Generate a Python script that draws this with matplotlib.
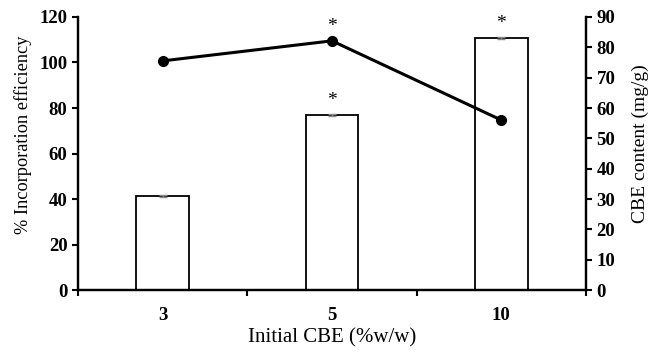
import matplotlib.pyplot as plt
import numpy as np

plt.rcParams['font.family'] = ['Liberation Serif', 'DejaVu Serif']

categories = ['3', '5', '10']
cbe_content = [31.0, 57.6, 83.1]        # mg/g, bars (right axis)
cbe_err = [0.4, 0.3, 0.4]
efficiency = [100.7, 109.5, 74.7]       # %, line (left axis)
eff_stars = [False, True, False]
bar_stars = [False, True, True]

x = np.arange(len(categories))

fig = plt.figure(figsize=(6.49, 3.53), dpi=100)
ax = fig.add_axes([0.120, 0.178, 0.783, 0.774])
ax2 = ax.twinx()

# bars on the right axis
ax2.bar(x, cbe_content, width=0.31, color='white', edgecolor='black', linewidth=1.3, zorder=2)
ax2.errorbar(x, cbe_content, yerr=cbe_err, fmt='none', ecolor='#888888', capsize=3, elinewidth=1, zorder=3)
for xi, v, s in zip(x, cbe_content, bar_stars):
    if s:
        ax2.text(xi, v + 2.0, '*', ha='center', va='bottom', fontsize=14)
ax2.set_ylim(0, 90)
ax2.set_yticks(np.arange(0, 91, 10))
ax2.set_ylabel('CBE content (mg/g)', fontsize=14)
ax2.yaxis.set_label_coords(1.090, 0.535)

# line on the left axis, drawn above bars
ax.set_zorder(ax2.get_zorder() + 1)
ax.patch.set_visible(False)
ax.plot(x, efficiency, color='black', lw=2.2, marker='o', markersize=7)
for xi, v, s in zip(x, efficiency, eff_stars):
    if s:
        ax.text(xi, v + 2.5, '*', ha='center', va='bottom', fontsize=14)
ax.set_ylim(0, 120)
ax.set_yticks(np.arange(0, 121, 20))
ax.set_ylabel('% Incorporation efficiency', fontsize=13.2)
ax.yaxis.set_label_coords(-0.090, 0.568)
ax.set_xlabel('Initial CBE (%w/w)', fontsize=15, labelpad=3)

ax.set_xlim(-0.5, 2.5)
ax.set_xticks(np.arange(-0.5, 2.6, 1.0))
ax.set_xticklabels([])
ax.set_xticks(x, minor=True)
ax.set_xticklabels(categories, minor=True, fontweight='bold', fontsize=13.5)
ax.tick_params(axis='x', which='minor', length=0, pad=12)
ax.tick_params(axis='x', which='major', length=4, width=1.5, direction='out')

for a in (ax, ax2):
    a.spines['top'].set_visible(False)
    for sp in ('left', 'right', 'bottom'):
        a.spines[sp].set_linewidth(1.6)
    a.tick_params(axis='y', length=4, width=1.5, labelsize=13.5)
    for lab in a.get_yticklabels():
        lab.set_fontweight('bold')

fig.savefig('out.png', dpi=100)
